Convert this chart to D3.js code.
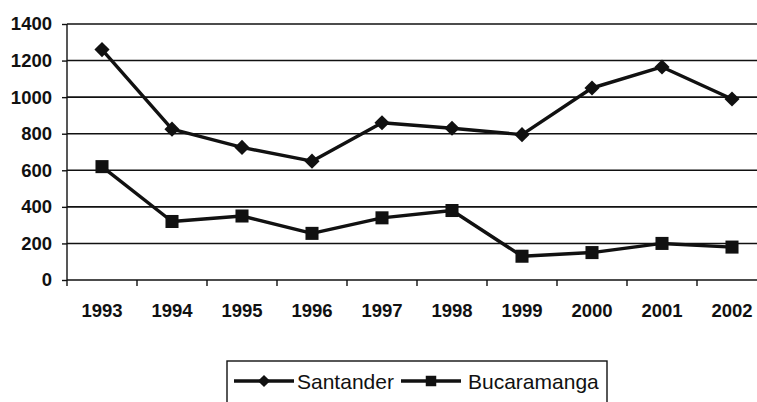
<!DOCTYPE html>
<html>
<head>
<meta charset="utf-8">
<script src="https://cdn.jsdelivr.net/npm/d3@7"></script>
<style>
html,body{margin:0;padding:0;background:#fff;}
svg{display:block;font-family:"Liberation Sans",Arial,sans-serif;}
</style>
</head>
<body>
<svg id="chart" width="757" height="402"></svg>
<script>
const years = ["1993","1994","1995","1996","1997","1998","1999","2000","2001","2002"];
const santander = [1260, 825, 725, 650, 860, 830, 795, 1050, 1165, 990];
const bucaramanga = [620, 320, 350, 255, 340, 380, 130, 150, 200, 180];
const yTicks = [0, 200, 400, 600, 800, 1000, 1200, 1400];
const seriesNames = ["Santander", "Bucaramanga"];

const FONT = "'Liberation Sans',Arial,sans-serif";
const svg = d3.select("#chart");
const x = d3.scaleBand().domain(years).range([67, 767]);
const y = d3.scaleLinear().domain([0, 1400]).range([280, 24]);
const cx = d => x(d) + x.bandwidth() / 2;

// gridlines
svg.append("g").selectAll("line").data(yTicks.filter(v => v > 0)).join("line")
  .attr("x1", 67).attr("x2", 767)
  .attr("y1", d => y(d)).attr("y2", d => y(d))
  .attr("stroke", "#111").attr("stroke-width", 1.6);

// y axis
const yAxis = d3.axisLeft(y).tickValues(yTicks).tickFormat(d3.format("d")).tickSize(5).tickPadding(10);
const gy = svg.append("g").attr("transform", "translate(67,0)").call(yAxis);
gy.attr("font-family", FONT).attr("font-size", 18.5);
gy.select(".domain").attr("stroke", "#111").attr("stroke-width", 1.4).attr("d", "M0,24V280");
gy.selectAll(".tick line").attr("stroke", "#111").attr("stroke-width", 1.4);
gy.selectAll("text").attr("fill", "#111").attr("font-weight", "bold");

// x axis
const xAxis = d3.axisBottom(x).tickSize(0).tickPadding(0);
const gx = svg.append("g").attr("transform", "translate(0,280)").call(xAxis);
gx.attr("font-family", FONT).attr("font-size", 18.5);
gx.select(".domain").attr("stroke", "#111").attr("stroke-width", 1.6).attr("d", "M67,0H767");
gx.selectAll("text").attr("fill", "#111").attr("dy", 0).attr("y", 37).attr("font-weight", "bold");
// category boundary ticks
svg.append("g").selectAll("line").data(years).join("line")
  .attr("x1", d => x(d)).attr("x2", d => x(d))
  .attr("y1", 280).attr("y2", 286)
  .attr("stroke", "#111").attr("stroke-width", 1.4);

const line = d3.line().x((d, i) => cx(years[i])).y(d => y(d));
const diamond = d3.symbol().type(d3.symbolSquare).size(115);
const square = d3.symbol().type(d3.symbolSquare).size(170);

function drawSeries(vals, sym, rot) {
  svg.append("path").datum(vals).attr("d", line)
    .attr("fill", "none").attr("stroke", "#111").attr("stroke-width", 3.4).attr("stroke-linejoin", "round");
  svg.append("g").selectAll("path").data(vals).join("path")
    .attr("transform", (d, i) => `translate(${cx(years[i])},${y(d)}) rotate(${rot})`)
    .attr("d", sym).attr("fill", "#111");
}
drawSeries(santander, diamond, 45);
drawSeries(bucaramanga, square, 0);

// legend
const lg = svg.append("g");
lg.append("rect").attr("x", 227).attr("y", 361).attr("width", 380).attr("height", 60)
  .attr("fill", "#fff").attr("stroke", "#111").attr("stroke-width", 1.4);
const items = [
  {name: seriesNames[0], sym: d3.symbol().type(d3.symbolSquare).size(75), rot: 45, x0: 234, tx: 297},
  {name: seriesNames[1], sym: d3.symbol().type(d3.symbolSquare).size(110), rot: 0, x0: 401, tx: 468}
];
items.forEach(it => {
  lg.append("line").attr("x1", it.x0).attr("x2", it.x0 + 60).attr("y1", 381).attr("y2", 381)
    .attr("stroke", "#111").attr("stroke-width", 3.4);
  lg.append("path").attr("transform", `translate(${it.x0 + 30},381) rotate(${it.rot})`).attr("d", it.sym).attr("fill", "#111");
  lg.append("text").attr("x", it.tx).attr("y", 389).attr("font-size", 21).attr("fill", "#111")
    .attr("font-family", FONT).text(it.name);
});
</script>
</body>
</html>
